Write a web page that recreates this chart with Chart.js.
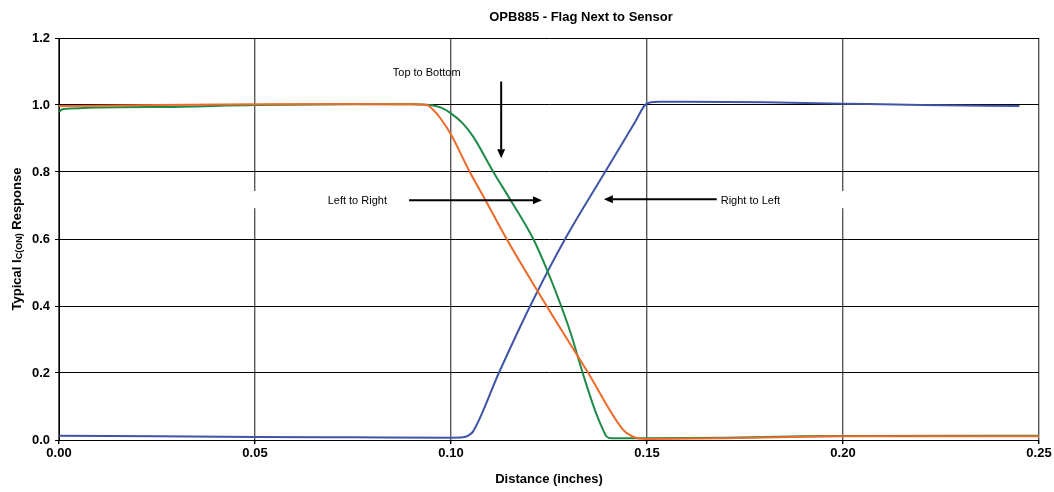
<!DOCTYPE html>
<html>
<head>
<meta charset="utf-8">
<title>OPB885 - Flag Next to Sensor</title>
<script src="https://cdn.jsdelivr.net/npm/chart.js@4.4.1/dist/chart.umd.min.js"></script>
<style>
  html, body { margin: 0; padding: 0; background: #ffffff; }
  #wrap { width: 1054px; height: 492px; }
</style>
</head>
<body>
<div id="wrap"><canvas id="chart" width="1054" height="492"></canvas></div>
<script>
// Normalised collector current vs. flag travel, three flag directions
const rightToLeftX = [0.000, 0.025, 0.050, 0.075, 0.100, 0.103, 0.1045, 0.1056, 0.1122, 0.1202, 0.1291, 0.1393, 0.1470, 0.1495, 0.1510, 0.1530, 0.1600, 0.1800, 0.2000, 0.2200, 0.2450];
const rightToLeftY = [0.013, 0.011, 0.009, 0.008, 0.007, 0.008, 0.014, 0.025, 0.200, 0.400, 0.600, 0.800, 0.950, 1.000, 1.008, 1.010, 1.010, 1.008, 1.004, 1.000, 0.997];

const topToBottomX = [0.000, 0.001, 0.025, 0.050, 0.075, 0.090, 0.0946, 0.0975, 0.100, 0.103, 0.1057, 0.1108, 0.1151, 0.1210, 0.1247, 0.1281, 0.1305, 0.1336, 0.1370, 0.1390, 0.1397, 0.1410, 0.1500, 0.1700, 0.1900, 0.2000, 0.2500];
const topToBottomY = [0.979, 0.988, 0.994, 1.000, 1.002, 1.002, 1.000, 0.992, 0.975, 0.945, 0.905, 0.800, 0.718, 0.600, 0.502, 0.400, 0.320, 0.200, 0.080, 0.025, 0.010, 0.005, 0.005, 0.007, 0.011, 0.012, 0.013];

const leftToRightX = [0.000, 0.025, 0.050, 0.075, 0.090, 0.0938, 0.0955, 0.0972, 0.100, 0.1048, 0.1087, 0.1142, 0.1244, 0.1350, 0.1438, 0.1460, 0.1477, 0.1500, 0.1700, 0.1900, 0.2000, 0.2500];
const leftToRightY = [0.997, 1.000, 1.002, 1.003, 1.002, 1.000, 0.985, 0.962, 0.912, 0.800, 0.718, 0.600, 0.400, 0.200, 0.032, 0.012, 0.005, 0.003, 0.005, 0.010, 0.011, 0.011];

const xTicks = [0.00, 0.05, 0.10, 0.15, 0.20, 0.25];
const yTicks = [0.0, 0.2, 0.4, 0.6, 0.8, 1.0, 1.2];

const pairs = (xs, ys) => xs.map((x, i) => ({ x: x, y: ys[i] }));

// Direction labels and arrows, placed in data units
const notes = [
  { text: 'Top to Bottom', x: 0.0938, y: 1.097, align: 'center' },
  { text: 'Left to Right', x: 0.0761, y: 0.713, align: 'center' },
  { text: 'Right to Left', x: 0.1688, y: 0.713, align: 'left' }
];
const arrows = [
  { x1: 0.1128, y1: 1.070, x2: 0.1128, y2: 0.841 },
  { x1: 0.0893, y1: 0.716, x2: 0.1232, y2: 0.716 },
  { x1: 0.1678, y1: 0.719, x2: 0.1390, y2: 0.719 }
];
// label boxes hide these short pieces of the vertical grid
const gridGaps = [
  { x: 0.05, y1: 0.692, y2: 0.743 },
  { x: 0.20, y1: 0.692, y2: 0.743 }
];

const FONT = '"Liberation Sans", Arial, Helvetica, sans-serif';

const decorations = {
  id: 'decorations',
  beforeDatasetsDraw(chart) {
    const { ctx, scales: { x, y } } = chart;
    ctx.save();
    ctx.fillStyle = '#ffffff';
    gridGaps.forEach(g => {
      const px = x.getPixelForValue(g.x);
      const top = y.getPixelForValue(g.y2);
      const bot = y.getPixelForValue(g.y1);
      ctx.fillRect(px - 3, top, 6, bot - top);
    });
    ctx.restore();
  },
  afterDatasetsDraw(chart) {
    const { ctx, scales: { x, y } } = chart;
    ctx.save();
    ctx.strokeStyle = '#000000';
    ctx.fillStyle = '#000000';
    ctx.lineWidth = 2;
    arrows.forEach(a => {
      const x1 = x.getPixelForValue(a.x1), y1 = y.getPixelForValue(a.y1);
      const x2 = x.getPixelForValue(a.x2), y2 = y.getPixelForValue(a.y2);
      const ang = Math.atan2(y2 - y1, x2 - x1);
      const head = 9, half = 4;
      const bx = x2 - head * Math.cos(ang), by = y2 - head * Math.sin(ang);
      ctx.beginPath();
      ctx.moveTo(x1, y1);
      ctx.lineTo(bx, by);
      ctx.stroke();
      ctx.beginPath();
      ctx.moveTo(x2, y2);
      ctx.lineTo(bx + half * Math.sin(ang), by - half * Math.cos(ang));
      ctx.lineTo(bx - half * Math.sin(ang), by + half * Math.cos(ang));
      ctx.closePath();
      ctx.fill();
    });
    ctx.font = '11px ' + FONT;
    ctx.textBaseline = 'middle';
    notes.forEach(n => {
      ctx.textAlign = n.align;
      ctx.fillText(n.text, x.getPixelForValue(n.x), y.getPixelForValue(n.y));
    });
    ctx.restore();
  },
  afterDraw(chart) {
    const { ctx, chartArea } = chart;
    ctx.save();
    ctx.fillStyle = '#000000';
    // chart title
    ctx.font = 'bold 13px ' + FONT;
    ctx.textAlign = 'center';
    ctx.textBaseline = 'middle';
    ctx.fillText('OPB885 - Flag Next to Sensor', 581, 17);
    // vertical axis title with subscript
    const main = 'bold 13px ' + FONT, sub = 'bold 9px ' + FONT;
    const parts = [['Typical I', main, 0], ['C(ON)', sub, 3], [' Response', main, 0]];
    let total = 0;
    parts.forEach(p => { ctx.font = p[1]; total += ctx.measureText(p[0]).width; });
    ctx.translate(17, (chartArea.top + chartArea.bottom) / 2);
    ctx.rotate(-Math.PI / 2);
    ctx.textAlign = 'left';
    let cx = -total / 2;
    parts.forEach(p => {
      ctx.font = p[1];
      ctx.fillText(p[0], cx, p[2]);
      cx += ctx.measureText(p[0]).width;
    });
    ctx.restore();
  }
};

const lineSet = (label, xs, ys, color, order) => ({
  label: label,
  data: pairs(xs, ys),
  borderColor: color,
  backgroundColor: color,
  borderWidth: 2,
  pointRadius: 0,
  cubicInterpolationMode: 'monotone',
  fill: false,
  order: order
});

new Chart(document.getElementById('chart'), {
  type: 'line',
  data: {
    datasets: [
      lineSet('Left to Right', leftToRightX, leftToRightY, '#EE6A28', 1),
      lineSet('Top to Bottom', topToBottomX, topToBottomY, '#1E8B48', 2),
      lineSet('Right to Left', rightToLeftX, rightToLeftY, '#3F55A6', 3)
    ]
  },
  options: {
    responsive: false,
    animation: false,
    devicePixelRatio: 1,
    layout: { padding: { top: 38, right: 15, left: 0, bottom: 0 } },
    plugins: {
      legend: { display: false },
      title: { display: false },
      tooltip: { enabled: false }
    },
    scales: {
      x: {
        type: 'linear',
        min: xTicks[0],
        max: xTicks[xTicks.length - 1],
        afterBuildTicks: s => { s.ticks = xTicks.map(v => ({ value: v })); },
        afterFit: s => { s.height = 52; },
        ticks: {
          color: '#000000',
          padding: 2,
          maxRotation: 0,
          font: { family: FONT, size: 13, weight: 'bold' },
          callback: v => Number(v).toFixed(2)
        },
        grid: { color: '#5a5a5a', lineWidth: 1.4, tickLength: 4, tickColor: '#000000' },
        border: { display: true, color: '#000000', width: 1 },
        title: {
          display: true,
          text: 'Distance (inches)',
          color: '#000000',
          font: { family: FONT, size: 13, weight: 'bold' },
          padding: { top: 0, bottom: 5 }
        }
      },
      y: {
        type: 'linear',
        min: yTicks[0],
        max: yTicks[yTicks.length - 1],
        afterBuildTicks: s => { s.ticks = yTicks.map(v => ({ value: v })); },
        afterFit: s => { s.width = 59; },
        ticks: {
          color: '#000000',
          padding: 5,
          font: { family: FONT, size: 13, weight: 'bold' },
          callback: v => Number(v).toFixed(1)
        },
        grid: { color: '#000000', lineWidth: 1, tickLength: 4, tickColor: '#000000' },
        border: { display: true, color: '#000000', width: 1 }
      }
    }
  },
  plugins: [decorations]
});
</script>
</body>
</html>
